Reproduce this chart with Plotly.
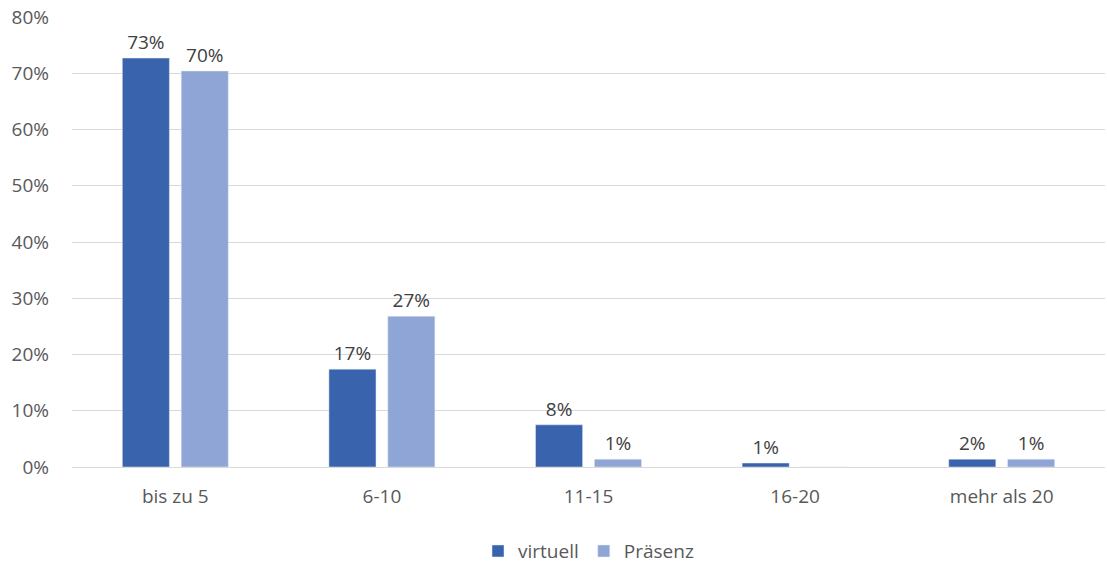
import plotly.graph_objects as go

categories = ["bis zu 5", "6-10", "11-15", "16-20", "mehr als 20"]
virtuell = [72.7, 17.4, 7.5, 0.7, 1.4]
praesenz = [70.4, 26.8, 1.4, 0.0, 1.4]
virtuell_labels = ["73%", "17%", "8%", "1%", "2%"]
praesenz_labels = ["70%", "27%", "1%", "", "1%"]
y_ticks = [0, 10, 20, 30, 40, 50, 60, 70, 80]
y_tick_labels = ["0%", "10%", "20%", "30%", "40%", "50%", "60%", "70%", "80%"]

font_family = "Open Sans, Liberation Sans, sans-serif"
fs = 19

fig = go.Figure()
fig.add_trace(go.Bar(
    x=categories, y=virtuell, name="virtuell",
    marker=dict(color="#3A63AD"),
    text=virtuell_labels, textposition="outside", cliponaxis=False,
    textfont=dict(size=fs, color="#404040", family=font_family),
))
fig.add_trace(go.Bar(
    x=categories, y=praesenz, name="Präsenz",
    marker=dict(color="#8FA5D5"),
    text=praesenz_labels, textposition="outside", cliponaxis=False,
    textfont=dict(size=fs, color="#404040", family=font_family),
))

fig.update_layout(
    width=1107, height=567,
    margin=dict(l=72, r=2, t=17, b=100),
    plot_bgcolor="white", paper_bgcolor="white",
    barmode="group", bargap=0.43, bargroupgap=0.2,
    font=dict(family=font_family, size=fs, color="#595959"),
    xaxis=dict(showgrid=False, showline=True, linecolor="#D9D9D9", linewidth=1,
               ticks="", tickfont=dict(size=fs, color="#595959"),
               ticklabelstandoff=12, automargin=False),
    yaxis=dict(range=[0, 80], tickvals=y_ticks, ticktext=y_tick_labels,
               showgrid=True, gridcolor="#D9D9D9", gridwidth=1, zeroline=False,
               showline=False, tickfont=dict(size=fs, color="#595959"), ticklen=0,
               ticks="", ticklabelstandoff=22, automargin=False),
    legend=dict(orientation="h", x=0.5, xanchor="center",
                yref="container", y=0.028, yanchor="middle",
                font=dict(size=fs, color="#595959"), traceorder="normal"),
)

fig.write_html("out.html")
